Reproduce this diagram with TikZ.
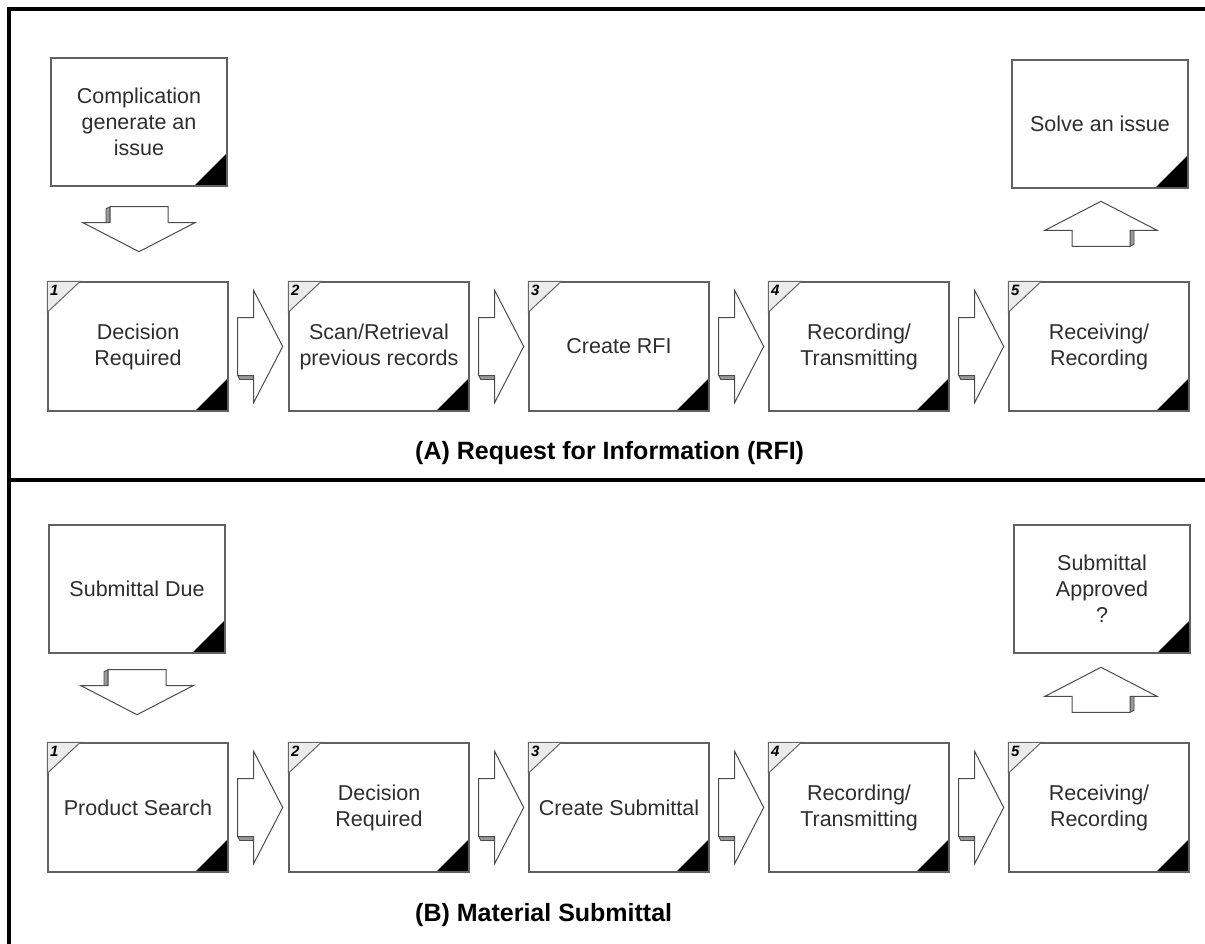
\documentclass[tikz,border=0pt]{standalone}
\usepackage{fontspec}
\setmainfont{Liberation Sans}
\usetikzlibrary{calc}
\begin{document}
\begin{tikzpicture}[x=1pt,y=-1pt,
  card/.style={draw=black!62, line width=1.4pt, fill=white,
    minimum width=180pt, minimum height=129pt, inner sep=0pt, align=center,
    font=\fontsize{21.5}{26}\selectfont, text=black!82,
    path picture={\fill[black] (path picture bounding box.south east)
      -- ++(-33pt,0pt) -- ++(33pt,33pt) -- cycle;}},
  topcard/.style={card, minimum width=176pt, minimum height=128pt},
  caption/.style={font=\bfseries\fontsize{25}{25}\selectfont, anchor=base west, inner sep=0pt},
  frameline/.style={line width=4pt, black},
  numtag/.pic={
    \filldraw[fill=black!8, draw=black!60, line width=1pt]
      (0pt,0pt) -- (33pt,0pt) -- (0pt,-31pt) -- cycle;
    \node[font=\bfseries\itshape\fontsize{15}{15}\selectfont, anchor=north west,
      inner sep=0pt] (-n) at (2.5pt,-4pt) {#1};},
  blockarrow/.pic={
    \filldraw[fill=black!40, draw=black!70, line width=0.8pt]
      (0pt,-29pt) -- (16pt,-29pt) -- (16pt,-33pt) -- (2pt,-33pt) -- cycle;
    \filldraw[fill=white, draw=black!70, line width=1pt, line join=miter]
      (0pt,29pt) -- (16pt,29pt) -- (16pt,56pt) -- (45pt,0pt)
      -- (16pt,-56pt) -- (16pt,-29pt) -- (0pt,-29pt) -- cycle;}
]
\useasboundingbox (0,0) rectangle (1205,944);

% frame and divider
\draw[frameline, line join=miter] (9,946) -- (9,9.5) -- (1206,9.5);
\draw[frameline] (7,479.5) -- (1206,479.5);

% ---- (A) Request for Information ----
\node[topcard] (ta) at (139,122) {Complication\\generate an\\issue};
\node[topcard] (tb) at (1100,124) {Solve an issue};

\node[card] (a1) at (138,346.5) {Decision\\Required};
\node[card] (a2) at (379,346.5) {Scan/Retrieval\\previous records};
\node[card] (a3) at (619,346.5) {Create RFI};
\node[card] (a4) at (859,346.5) {Recording/\\Transmitting};
\node[card] (a5) at (1099,346.5) {Receiving/\\Recording};

\foreach \n in {1,...,5}{\pic (na\n) at (a\n.north west) {numtag=\n};}
\foreach \i/\j in {1/2,2/3,3/4,4/5}{\pic (ra\i) at ($(a\i.east)+(9pt,0pt)$) {blockarrow};}
\pic[rotate=-90] (da) at ($(ta.south)+(0pt,-20pt)$) {blockarrow};
\pic[rotate=90] (ua) at ($(a5.north)+(2pt,35pt)$) {blockarrow};

\node[caption] (capA) at (415,459) {(A) Request for Information (RFI)};

% ---- (B) Material Submittal ----
\node[topcard] (sa) at (137,589) {Submittal Due};
\node[topcard] (sb) at (1102,589) {Submittal\\Approved\\?};

\node[card] (b1) at (138,807.5) {Product Search};
\node[card] (b2) at (379,807.5) {Decision\\Required};
\node[card] (b3) at (619,807.5) {Create Submittal};
\node[card] (b4) at (859,807.5) {Recording/\\Transmitting};
\node[card] (b5) at (1099,807.5) {Receiving/\\Recording};

\foreach \n in {1,...,5}{\pic (nb\n) at (b\n.north west) {numtag=\n};}
\foreach \i/\j in {1/2,2/3,3/4,4/5}{\pic (rb\i) at ($(b\i.east)+(9pt,0pt)$) {blockarrow};}
\pic[rotate=-90] (db) at ($(sa.south)+(0pt,-16pt)$) {blockarrow};
\pic[rotate=90] (ub) at ($(b5.north)+(2pt,30pt)$) {blockarrow};

\node[caption] (capB) at (415,921) {(B) Material Submittal};
\end{tikzpicture}
\end{document}
